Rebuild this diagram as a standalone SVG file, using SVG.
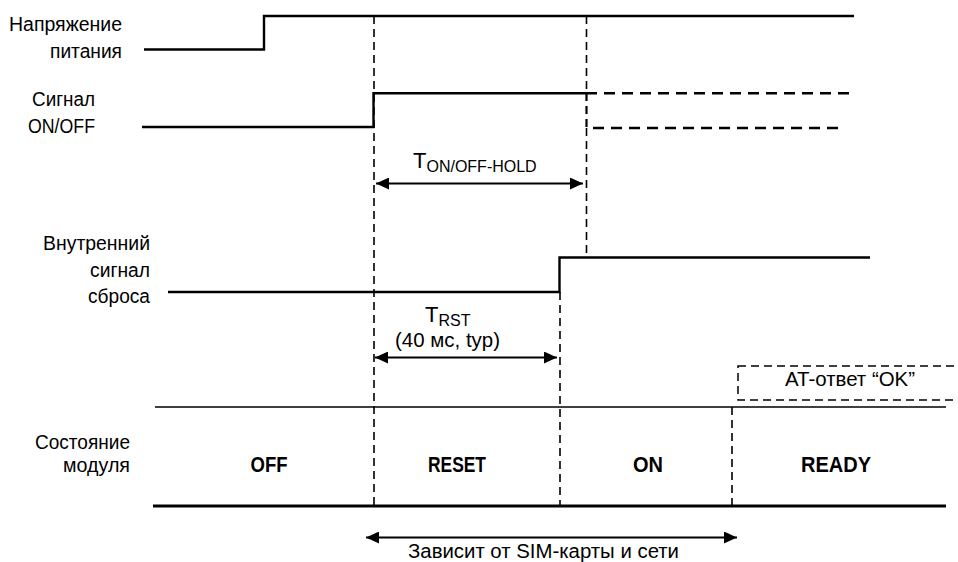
<svg xmlns="http://www.w3.org/2000/svg" width="958" height="562" viewBox="0 0 958 562">
<style>
text{font-family:"Liberation Sans",Arial,sans-serif;fill:#000}
.lbl{font-size:20px;text-anchor:end}
.st{font-size:22px;font-weight:bold;text-anchor:middle}
.sig{fill:none;stroke:#000;stroke-width:2.4}
.vd{fill:none;stroke:#000;stroke-width:1.6;stroke-dasharray:8 5}
.hd{fill:none;stroke:#000;stroke-width:2.4;stroke-dasharray:11 7}
.arr{fill:none;stroke:#000;stroke-width:2;marker-start:url(#ah);marker-end:url(#ah)}
.big{font-size:22px}
.sub{font-size:16px}
</style>
<defs>
<marker id="ah" markerUnits="userSpaceOnUse" markerWidth="14" markerHeight="12" refX="13" refY="6" orient="auto-start-reverse">
<path d="M0,0 L13,6 L0,12 z" fill="#000"/>
</marker>
</defs>
<rect width="958" height="562" fill="#fff"/>

<g id="power">
<text class="lbl" x="122" y="31" textLength="113" lengthAdjust="spacingAndGlyphs">Напряжение</text>
<text class="lbl" x="122" y="58" textLength="72" lengthAdjust="spacingAndGlyphs">питания</text>
<path class="sig" d="M144,49.5 H264 V16 H854"/>
</g>

<g id="onoff">
<text class="lbl" x="95" y="106" textLength="63" lengthAdjust="spacingAndGlyphs">Сигнал</text>
<text class="lbl" x="95" y="133" textLength="67" lengthAdjust="spacingAndGlyphs">ON/OFF</text>
<path class="sig" d="M142,127 H373.5 V93.3 H586"/>
<path class="hd" d="M586,93.3 H853"/>
<path class="hd" d="M593,128 H845"/>
<path fill="none" stroke="#000" stroke-width="2.2" stroke-dasharray="8 5" d="M586.5,93 V128"/>
</g>

<g id="reset">
<text class="lbl" x="150" y="250" textLength="107" lengthAdjust="spacingAndGlyphs">Внутренний</text>
<text class="lbl" x="150" y="277" textLength="60" lengthAdjust="spacingAndGlyphs">сигнал</text>
<text class="lbl" x="150" y="303" textLength="62" lengthAdjust="spacingAndGlyphs">сброса</text>
<path class="sig" d="M168,292 H559.5 V257.5 H870"/>
</g>

<g id="state">
<text class="lbl" x="130" y="449" textLength="95" lengthAdjust="spacingAndGlyphs">Состояние</text>
<text class="lbl" x="130" y="472" textLength="67" lengthAdjust="spacingAndGlyphs">модуля</text>
<line x1="155" y1="407" x2="946" y2="407" stroke="#000" stroke-width="1.6"/>
<line x1="153" y1="506" x2="946" y2="506" stroke="#000" stroke-width="2.8"/>
<text class="st" x="269" y="472" textLength="37" lengthAdjust="spacingAndGlyphs">OFF</text>
<text class="st" x="457" y="472" textLength="58" lengthAdjust="spacingAndGlyphs">RESET</text>
<text class="st" x="648" y="472" textLength="30" lengthAdjust="spacingAndGlyphs">ON</text>
<text class="st" x="836" y="472" textLength="70" lengthAdjust="spacingAndGlyphs">READY</text>
</g>

<g id="at-response">
<rect x="738" y="366" width="240" height="34" fill="none" stroke="#000" stroke-width="1.5" stroke-dasharray="8 5"/>
<text x="850" y="386" font-size="20" text-anchor="middle" textLength="130" lengthAdjust="spacingAndGlyphs">AT-ответ “OK”</text>
</g>

<g id="connectors">
<path class="vd" d="M374,16 V506"/>
<path class="vd" d="M586.5,16 V93"/>
<path class="vd" d="M586.5,128 V257"/>
<path class="vd" d="M560,292 V506"/>
<path class="vd" d="M732,407 V506"/>
<path class="arr" d="M376,183.5 H583"/>
<path class="arr" d="M375,357.5 H557"/>
<path class="arr" d="M366,537.5 H737"/>
</g>

<g id="timing-labels">
<text x="413" y="168"><tspan class="big">T</tspan><tspan class="sub" dy="3.5">ON/OFF-HOLD</tspan></text>
<text x="425" y="322"><tspan class="big">T</tspan><tspan class="sub" dy="4">RST</tspan></text>
<text x="447.5" y="347" font-size="20" text-anchor="middle" textLength="105" lengthAdjust="spacingAndGlyphs">(40 мс, typ)</text>
<text x="543.5" y="558" font-size="20" text-anchor="middle" textLength="271" lengthAdjust="spacingAndGlyphs">Зависит от SIM-карты и сети</text>
</g>
</svg>
